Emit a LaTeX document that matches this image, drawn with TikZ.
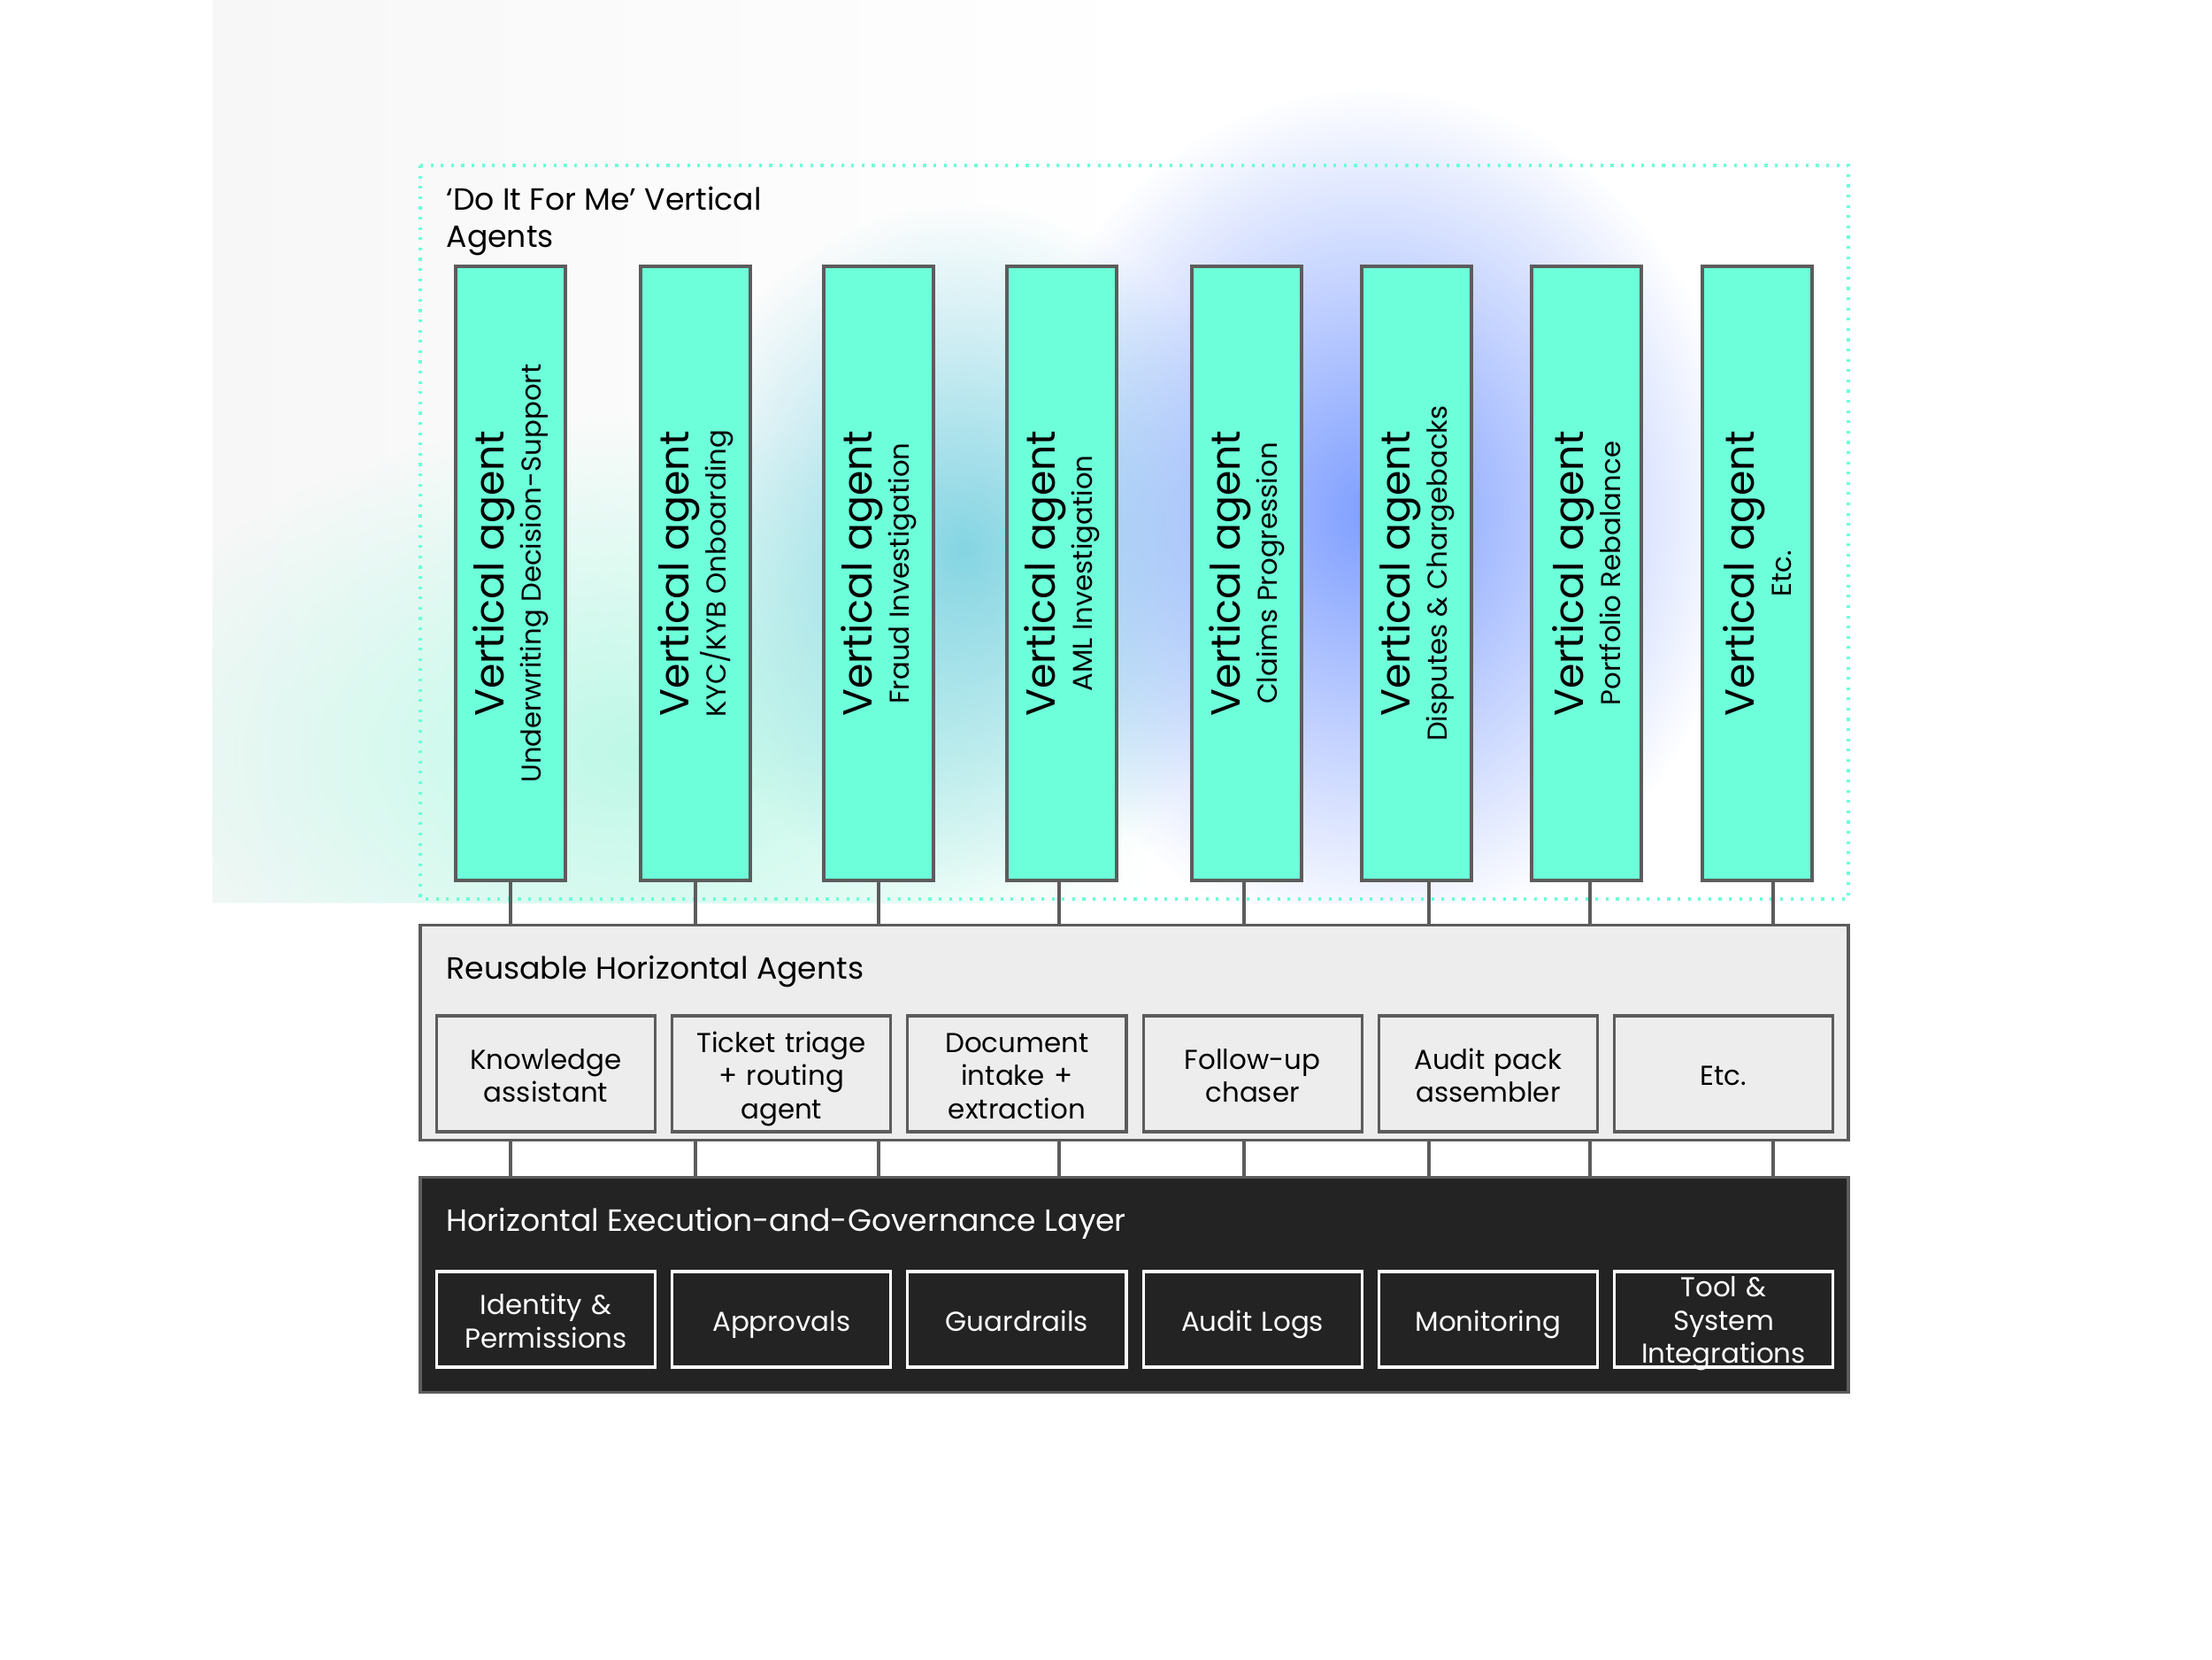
\documentclass[tikz,border=0pt]{standalone}
\usepackage{fontspec}
\setmainfont{Poppins}
\usetikzlibrary{calc, fadings}
\definecolor{mint}{HTML}{6DFFD9}
\definecolor{edgegray}{HTML}{5C5C5C}
\definecolor{panel}{HTML}{EDEDED}
\definecolor{night}{HTML}{232323}
\definecolor{glowblue}{HTML}{7E9EFF}
\definecolor{glowcyan}{HTML}{7FD3E2}
\definecolor{glowmint}{HTML}{BDF9E7}
% struts that keep cell texts on a common centre line
\newcommand{\topstrut}{\rule{0pt}{10.8pt}}
\newcommand{\botstrut}{\rule[-3.2pt]{0pt}{3.2pt}}
\tikzfading[name=glowfade, inner color=transparent!0, outer color=transparent!100]
\tikzfading[name=sidefade, left color=transparent!0, right color=transparent!100]
\tikzset{
  vbar/.style={rectangle, fill=mint, draw=edgegray, line width=0.9pt,
               minimum width=1.24cm, minimum height=6.94cm, inner sep=0pt},
  vlabel/.style={rotate=90, align=center, inner sep=0pt,
               font=\fontsize{13.05}{15}\selectfont},
  layer/.style={rectangle, fill=#1, draw=edgegray, line width=1.1pt,
               minimum width=16.14cm, minimum height=2.43cm, inner sep=0pt},
  cell/.style={rectangle, draw=edgegray, fill=panel, line width=0.9pt,
               minimum width=2.47cm, minimum height=1.31cm, text width=2.3cm,
               align=center, inner sep=0pt, font=\fontsize{8.8}{10.6}\selectfont,
               execute at begin node=\topstrut, execute at end node=\botstrut},
  darkcell/.style={cell, draw=white, fill=night, text=white, minimum height=1.08cm},
  heading/.style={anchor=west, align=left, inner sep=0pt,
               font=\fontsize{9.86}{11.9}\selectfont},
  link/.style={draw=edgegray, line width=0.9pt},
}

\begin{document}
\begin{tikzpicture}
  \useasboundingbox (0,0) rectangle (25,-18.75);

  % --- background glow
  \begin{scope}
    \clip (2.4,0) rectangle (20.89,-10.2);
    \fill[black!3, path fading=sidefade] (2.4,0) rectangle (13,-10.2);
    \fill[glowmint, path fading=glowfade] (7.2,-8.5) ellipse (6.2 and 3.8);
    \fill[glowcyan, path fading=glowfade, opacity=0.95] (10.9,-6.2) ellipse (3.4 and 3.9);
    \fill[glowblue, path fading=glowfade] (15.5,-5.8) ellipse (4.2 and 4.8);
  \end{scope}

  % --- vertical agents
  \draw[mint, line width=0.9pt, dash pattern=on 0.9pt off 2.4pt] (4.75,-1.87) rectangle (20.89,-10.16);
  \node[heading] (vtitle) at (5.04,-2.50) {‘Do It For Me’ Vertical\\Agents};

  \foreach \cx/\dx/\sub [count=\i] in {5.77/0/{Underwriting Decision-Support},
      7.86/0/{KYC/KYB Onboarding}, 9.93/0/{Fraud Investigation},
      12.00/-0.03/{AML Investigation}, 14.09/-0.03/{Claims Progression},
      16.01/0.14/{Disputes \& Chargebacks}, 17.93/0.04/{Portfolio Rebalance},
      19.86/0.18/{Etc.}}{
    \node[vbar] (v\i) at (\cx,-6.48) {};
    \node[vlabel] (vl\i) at (v\i) {Vertical agent\\[-3pt]{\fontsize{8.77}{10}\selectfont \sub}};
  }

  % --- reusable horizontal agents
  \node[layer=panel] (hz) at (12.82,-11.67) {};
  \node[heading] (htitle) at (5.04,-10.98) {Reusable Horizontal Agents};
  \foreach \txt [count=\i] in {Knowledge\\assistant, Ticket triage\\+ routing\\agent,
      Document\\intake +\\extraction, Follow-up\\chaser, Audit pack\\assembler, Etc.}{
    \node[cell] (h\i) at ({6.17+(\i-1)*2.662},-12.135) {\txt};
  }

  % --- execution and governance layer
  \node[layer=night] (gv) at (12.82,-14.52) {};
  \node[heading, text=white] (gtitle) at (5.04,-13.83) {Horizontal Execution-and-Governance Layer};
  \foreach \txt [count=\i] in {Identity \&\\Permissions, Approvals, Guardrails, Audit Logs,
      Monitoring}{
    \node[darkcell] (g\i) at ({6.17+(\i-1)*2.662},-14.91) {\txt};
  }
  % three lines spill over the box edge, as printed
  \node[darkcell] (g6) at (19.48,-14.91)
    {\parbox[c][0.9cm][c]{2.3cm}{\centering\vspace*{2.8pt}Tool \&\\System\\Integrations}};

  % --- connectors
  \foreach \dx [count=\i] in {0,0,0,-0.03,-0.03,0.14,0.04,0.18}{
    \draw[link] ([xshift=\dx cm]v\i.south) -- ([xshift=\dx cm]v\i.south |- hz.north);
    \draw[link] ([xshift=\dx cm]v\i.south |- hz.south) -- ([xshift=\dx cm]v\i.south |- gv.north);
  }
\end{tikzpicture}
\end{document}
